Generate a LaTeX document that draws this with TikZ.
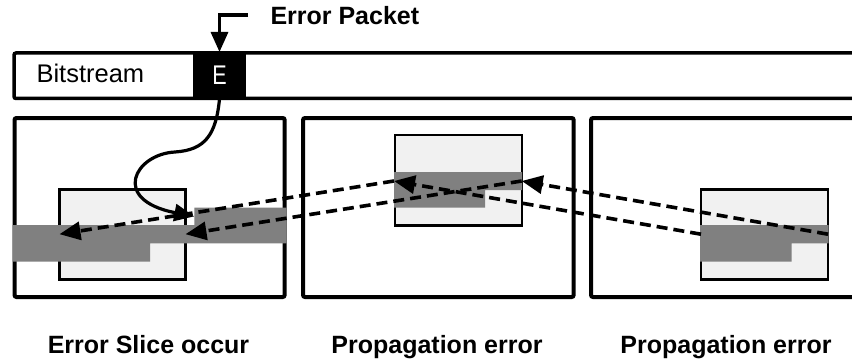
\documentclass[tikz,border=0pt]{standalone}
\usepackage{fontspec}
\setmainfont{Liberation Sans}
\usetikzlibrary{arrows.meta}
\definecolor{slicegray}{HTML}{808080}
\definecolor{insetfill}{HTML}{F1F1F1}
\begin{document}
\begin{tikzpicture}[x=1pt,y=-1pt,
  every node/.style={outer sep=0pt},
  panel/.style={draw, line width=4pt, rounded corners=2pt, anchor=north west, inner sep=0pt},
  inset/.style={draw, fill=insetfill, line width=2.2pt, anchor=north west, inner sep=0pt},
  errslice/.style={fill=slicegray},
  dasharrow/.style={line width=3.6pt, dash pattern=on 11pt off 6pt, -{Triangle[length=21pt,width=18pt]}},
  solidarrow/.style={line width=3.2pt, -{Triangle[length=20pt,width=17pt]}},
  tagtext/.style={font=\fontsize{25}{30}\selectfont\bfseries, inner sep=0pt, anchor=base},
]
\useasboundingbox (0,0) rectangle (852,361);

% three frames
\node[panel, minimum width=270.2pt, minimum height=179pt] (f1) at (14.5,118) {};
\node[panel, minimum width=270.7pt, minimum height=179pt] (f2) at (303,118) {};
\node[panel, minimum width=300pt, minimum height=179pt] (f3) at (591,118) {};

% reference areas inside the frames
\node[inset, minimum width=126pt, minimum height=90pt] (in1) at (59.5,189.5) {};
\node[inset, minimum width=126.4pt, minimum height=90.5pt] (in2) at (395.3,135) {};
\node[inset, minimum width=127pt, minimum height=90pt] (in3) at (701,189.5) {};

% damaged slices
\fill[errslice] (12.5,225) -- (194.3,225) -- (194.3,207.7) -- (286.5,207.7) -- (286.5,243.3)
  -- (150,243.3) -- (150,261.7) -- (12.5,261.7) -- cycle;
\fill[errslice] (394,172) -- (522,172) -- (522,190) -- (485,190) -- (485,207.7) -- (394,207.7) -- cycle;
\fill[errslice] (700,225) -- (828.5,225) -- (828.5,243.3) -- (791.7,243.3) -- (791.7,261.7) -- (700,261.7) -- cycle;

% bitstream bar with the erroneous packet
\node[draw, line width=3.5pt, rounded corners=2pt, anchor=north west, inner sep=0pt,
  minimum width=870pt, minimum height=45.5pt] (bar) at (14,53) {};
\node[fill=black, inner sep=0pt, minimum width=53pt, minimum height=47pt] (E) at (219.5,75.5)
  {\raisebox{-2.3pt}{\scalebox{0.8}[1]{\color{white}\fontsize{27}{30}\selectfont E}}};
\node[anchor=base west, inner sep=0pt, font=\fontsize{25.5}{30}\selectfont] (bs) at (36.5,83) {Bitstream};

% error packet pointer
\node[anchor=base west, inner sep=0pt, font=\fontsize{25}{30}\selectfont\bfseries] (ep) at (270.5,25) {Error Packet};
\coordinate (epstart) at (248,15);
\draw[solidarrow] (epstart) -| (E.north);

% slice positions used by the connectors
\coordinate (s1) at (194.3,216.4);
\coordinate (loop) at (175,152);
\coordinate (m1w) at (59.5,234.2);
\coordinate (m1e) at (185.5,234.2);
\coordinate (m2w) at (394,181);
\coordinate (m2e) at (521.7,181);
\coordinate (m3w) at (701,234.2);
\coordinate (m3e) at (828,234.2);

% packet to damaged slice
\draw[solidarrow] (E.south) .. controls (216,135) and (205,150) .. (loop)
  .. controls (135,154) and (110,200) .. (s1);

% propagation through prediction
\draw[dasharrow] (m3e) -- (m2e);
\draw[dasharrow] (m3w) -- (m2w);
\draw[dasharrow] (m2w) -- (m1w);
\draw[dasharrow] (m2e) -- (m1e);

% captions
\node[tagtext] (c1) at (148.5,353) {Error Slice occur};
\node[tagtext] (c2) at (437,353) {Propagation error};
\node[tagtext] (c3) at (726,353) {Propagation error};
\end{tikzpicture}
\end{document}
